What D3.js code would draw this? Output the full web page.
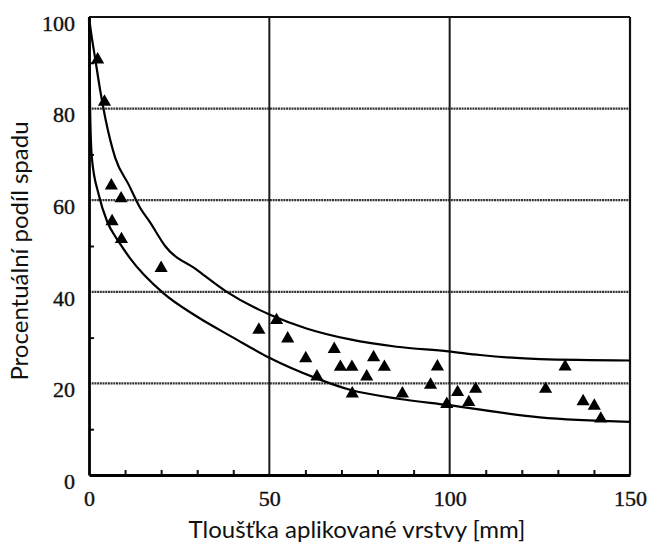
<!DOCTYPE html>
<html>
<head>
<meta charset="utf-8">
<script src="https://cdn.jsdelivr.net/npm/d3@7"></script>
<style>
  html, body { margin: 0; padding: 0; background: #fff; }
  svg { display: block; }
</style>
</head>
<body>
<svg id="chart" width="650" height="548"></svg>
<script>
// Measured samples: layer thickness [mm] vs. percentage of fallout
const sampleX = [2.4, 4.3, 6.2, 8.9, 6.4, 9.0, 20.0,
  47.1, 52.0, 55.1, 60.1, 63.2, 68.0, 69.7, 72.9, 73.0, 77.0, 78.9, 81.9, 86.9,
  94.7, 96.6, 99.2, 102.2, 105.3, 107.2, 126.6, 132.0, 137.0, 140.1, 141.9];
const sampleY = [91.0, 81.8, 63.5, 60.7, 55.7, 51.8, 45.5,
  32.0, 34.1, 30.1, 25.8, 21.8, 27.8, 23.9, 23.9, 18.1, 21.8, 26.0, 23.9, 18.1,
  20.0, 24.0, 15.8, 18.4, 16.2, 19.1, 19.1, 24.0, 16.4, 15.4, 12.6];

// Upper envelope curve
const upperX = [0, 0.5, 1.7, 3.1, 4.5, 7.3, 11.0, 14.2, 16.9, 21.1, 29.9, 38.2, 47.4, 50.2, 60.3, 72.4, 85.3, 99.6, 108.4, 125, 150];
const upperY = [100, 97, 91, 84, 78, 69.2, 63.4, 58.3, 55.2, 50.0, 44.8, 40.0, 36.0, 35.0, 32.0, 29.6, 28.0, 27.0, 26.2, 25.3, 25.0];

// Lower envelope curve
const lowerX = [0, 0.3, 0.8, 2.7, 5.0, 8.2, 11.4, 20.6, 29.9, 40.0, 50.0, 63.1, 72.4, 86.2, 99.2, 125, 150];
const lowerY = [100, 80, 69.2, 61.2, 55.4, 51.0, 47.3, 39.7, 34.6, 30.0, 25.6, 21.1, 18.6, 16.6, 15.3, 12.6, 11.6];

// Axis ticks
const xTickLabels = [0, 50, 100, 150];
const yTickLabels = [0, 20, 40, 60, 80, 100];
const xMinorTicks = [10, 20, 30, 40, 60, 70, 80, 90, 110, 120, 130, 140];
const yMinorTicks = [10, 30, 50, 70, 90];
const xGrid = [50, 100];
const yGrid = [20, 40, 60, 80];

const xTitle = "Tloušťka aplikované vrstvy [mm]";
const yTitle = "Procentuální podíl spadu";

const svg = d3.select("#chart");
const plotLeft = 89, plotRight = 630, plotTop = 17, plotBottom = 475;

const x = d3.scaleLinear().domain([0, 150]).range([plotLeft, plotRight]);
const y = d3.scaleLinear().domain([0, 100]).range([plotBottom, plotTop]);

const tickFont = "'Liberation Serif', 'DejaVu Serif', serif";
const titleFont = "Lato, 'Open Sans', sans-serif";

// Grid lines
svg.append("g").selectAll("line").data(yGrid).join("line")
  .attr("x1", plotLeft).attr("x2", plotRight)
  .attr("y1", d => y(d)).attr("y2", d => y(d))
  .attr("stroke", "#333").attr("stroke-width", 2.2)
  .attr("stroke-dasharray", "2,0.7");

svg.append("g").selectAll("line").data(xGrid).join("line")
  .attr("x1", d => x(d)).attr("x2", d => x(d))
  .attr("y1", plotTop).attr("y2", plotBottom)
  .attr("stroke", "#1a1a1a").attr("stroke-width", 2);

// Frame: top and right edges
svg.append("line").attr("x1", plotLeft).attr("x2", plotRight).attr("y1", plotTop).attr("y2", plotTop)
  .attr("stroke", "#111").attr("stroke-width", 2.2);
svg.append("line").attr("x1", plotRight).attr("x2", plotRight).attr("y1", plotTop).attr("y2", plotBottom)
  .attr("stroke", "#111").attr("stroke-width", 2.2);

// Minor ticks pointing inward
const xMinor = svg.append("g").attr("transform", `translate(0,${plotBottom})`)
  .call(d3.axisBottom(x).tickValues(xMinorTicks).tickSize(-5).tickFormat(""));
xMinor.select(".domain").remove();
xMinor.selectAll("line").attr("stroke", "#111").attr("stroke-width", 2);

const yMinor = svg.append("g").attr("transform", `translate(${plotLeft},0)`)
  .call(d3.axisLeft(y).tickValues(yMinorTicks).tickSize(-5).tickFormat(""));
yMinor.select(".domain").remove();
yMinor.selectAll("line").attr("stroke", "#111").attr("stroke-width", 2);

// Main axes with labels
const xAxis = svg.append("g").attr("transform", `translate(0,${plotBottom})`)
  .call(d3.axisBottom(x).tickValues(xTickLabels).tickSize(0).tickPadding(15).tickFormat(d3.format("d")));
xAxis.select(".domain").attr("stroke", "#000").attr("stroke-width", 2.8);
xAxis.selectAll("text").attr("font-family", tickFont).attr("font-size", 22).attr("fill", "#111")
  .attr("stroke", "#111").attr("stroke-width", 0.4);

const yAxis = svg.append("g").attr("transform", `translate(${plotLeft},0)`)
  .call(d3.axisLeft(y).tickValues(yTickLabels).tickSize(0).tickPadding(14).tickFormat(d3.format("d")));
yAxis.select(".domain").attr("stroke", "#000").attr("stroke-width", 2.8);
yAxis.selectAll("text").attr("font-family", tickFont).attr("font-size", 22).attr("fill", "#111")
  .attr("stroke", "#111").attr("stroke-width", 0.4)
  .attr("dy", "0.6em");

// Envelope curves
const line = d3.line().x(d => x(d[0])).y(d => y(d[1])).curve(d3.curveMonotoneX);
const upper = upperX.map((v, i) => [v, upperY[i]]);
const lower = lowerX.map((v, i) => [v, lowerY[i]]);
[upper, lower].forEach(pts => {
  svg.append("path").attr("d", line(pts))
    .attr("fill", "none").attr("stroke", "#000").attr("stroke-width", 2.2);
});

// Sample markers
const tri = d3.symbol().type(d3.symbolTriangle).size(75);
svg.append("g").selectAll("path").data(sampleX.map((v, i) => [v, sampleY[i]])).join("path")
  .attr("d", tri)
  .attr("transform", d => `translate(${x(d[0])},${y(d[1]) + 1.5})`)
  .attr("fill", "#000");

// Axis titles
svg.append("text")
  .attr("x", 357).attr("y", 538)
  .attr("text-anchor", "middle")
  .attr("font-family", titleFont).attr("font-size", 24).attr("fill", "#111")
  .text(xTitle);

svg.append("text")
  .attr("transform", "translate(28,251) rotate(-90)")
  .attr("text-anchor", "middle")
  .attr("font-family", titleFont).attr("font-size", 24).attr("fill", "#111")
  .text(yTitle);
</script>
</body>
</html>
